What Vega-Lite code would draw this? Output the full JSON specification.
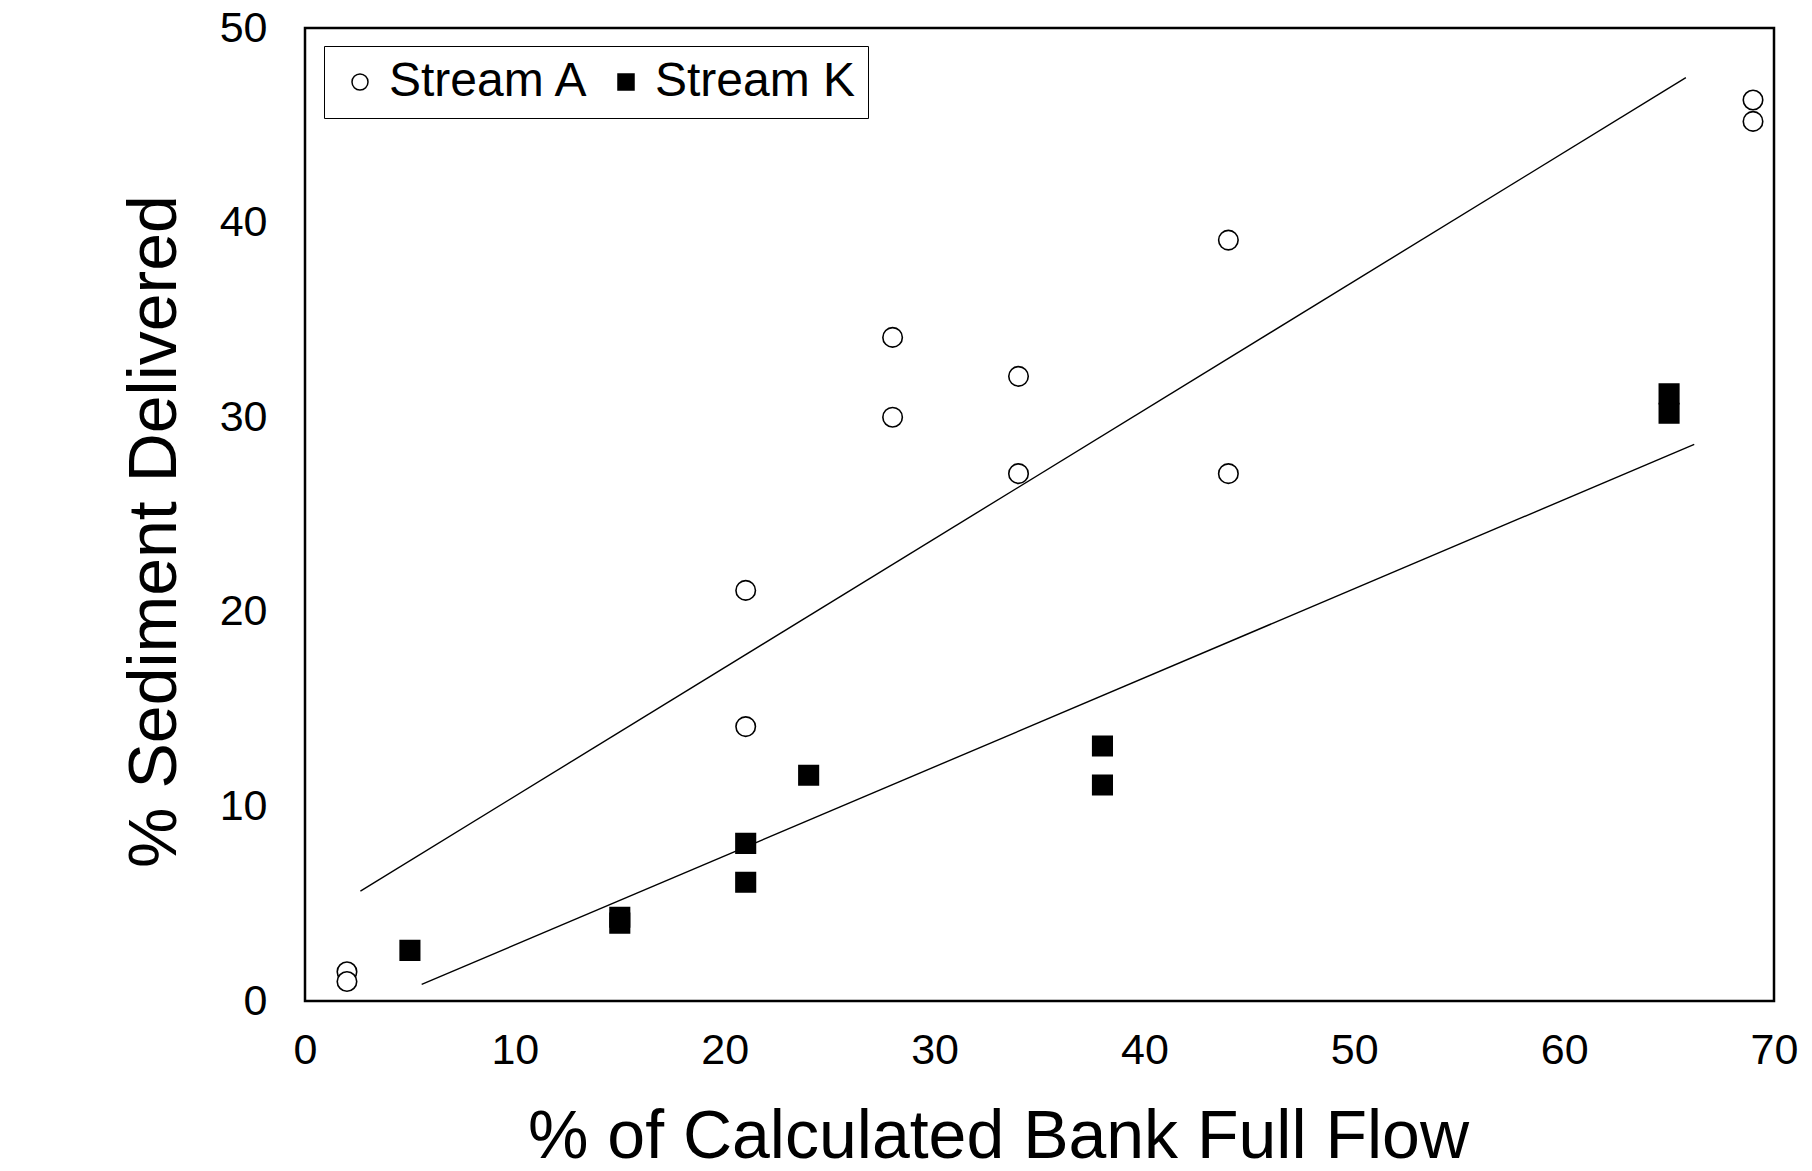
{
  "$schema": "https://vega.github.io/schema/vega-lite/v6.json",
  "width": 1469,
  "height": 973,
  "autosize": {"type": "none"},
  "padding": {"left": 305, "top": 28, "right": 38, "bottom": 170},
  "background": "white",
  "config": {
    "font": "Liberation Sans",
    "view": {"stroke": "black", "strokeWidth": 2.5},
    "axis": {
      "grid": false,
      "ticks": false,
      "domain": false,
      "labelColor": "black",
      "titleColor": "black",
      "labelFont": "Liberation Sans",
      "titleFont": "Liberation Sans",
      "titleFontWeight": "normal",
      "labelFontSize": 43,
      "titleFontSize": 68,
      "labelFlush": false,
      "labelOverlap": false
    },
    "legend": {
      "orient": "none",
      "legendX": 19,
      "legendY": 18,
      "direction": "horizontal",
      "strokeColor": "black",
      "padding": 12,
      "symbolOffset": 0,
      "symbolSize": 256,
      "labelFont": "Liberation Sans",
      "labelFontSize": 48,
      "labelColor": "black",
      "labelLimit": 400,
      "labelOffset": 5,
      "columnPadding": 12
    }
  },
  "datasets": {
    "points": [
      {"stream": "Stream A", "flow": 2, "sediment": 1.5},
      {"stream": "Stream A", "flow": 2, "sediment": 1.0},
      {"stream": "Stream A", "flow": 21, "sediment": 21.1},
      {"stream": "Stream A", "flow": 21, "sediment": 14.1},
      {"stream": "Stream A", "flow": 28, "sediment": 34.1},
      {"stream": "Stream A", "flow": 28, "sediment": 30.0},
      {"stream": "Stream A", "flow": 34, "sediment": 32.1},
      {"stream": "Stream A", "flow": 34, "sediment": 27.1},
      {"stream": "Stream A", "flow": 44, "sediment": 39.1},
      {"stream": "Stream A", "flow": 44, "sediment": 27.1},
      {"stream": "Stream A", "flow": 69, "sediment": 46.3},
      {"stream": "Stream A", "flow": 69, "sediment": 45.2},
      {"stream": "Stream K", "flow": 5, "sediment": 2.6},
      {"stream": "Stream K", "flow": 15, "sediment": 4.0},
      {"stream": "Stream K", "flow": 15, "sediment": 4.3},
      {"stream": "Stream K", "flow": 21, "sediment": 8.1},
      {"stream": "Stream K", "flow": 21, "sediment": 6.1},
      {"stream": "Stream K", "flow": 24, "sediment": 11.6},
      {"stream": "Stream K", "flow": 38, "sediment": 13.1},
      {"stream": "Stream K", "flow": 38, "sediment": 11.1},
      {"stream": "Stream K", "flow": 65, "sediment": 30.2},
      {"stream": "Stream K", "flow": 65, "sediment": 31.2}
    ],
    "fits": [
      {"stream": "Stream A", "flow": 2.64, "sediment": 5.65},
      {"stream": "Stream A", "flow": 65.8, "sediment": 47.45},
      {"stream": "Stream K", "flow": 5.56, "sediment": 0.85},
      {"stream": "Stream K", "flow": 66.2, "sediment": 28.6}
    ]
  },
  "encoding": {
    "x": {
      "field": "flow",
      "type": "quantitative",
      "scale": {"domain": [0, 70], "nice": false},
      "axis": {
        "values": [0, 10, 20, 30, 40, 50, 60, 70],
        "labelPadding": 28,
        "title": "% of Calculated Bank Full Flow",
        "titleX": 693,
        "titleY": 156,
        "titleAlign": "center",
        "titleBaseline": "alphabetic"
      }
    },
    "y": {
      "field": "sediment",
      "type": "quantitative",
      "scale": {"domain": [0, 50], "nice": false},
      "axis": {
        "values": [0, 10, 20, 30, 40, 50],
        "labelPadding": 38,
        "title": "% Sediment Delivered",
        "titleAngle": -90,
        "titleX": -130,
        "titleY": 503,
        "titleAlign": "center",
        "titleBaseline": "alphabetic"
      }
    }
  },
  "layer": [
    {
      "data": {"name": "fits"},
      "mark": {"type": "line", "color": "black", "strokeWidth": 1.4},
      "encoding": {"detail": {"field": "stream"}}
    },
    {
      "data": {"name": "points"},
      "mark": {"type": "point", "filled": true, "stroke": "black", "strokeWidth": 1.6, "size": 380, "opacity": 1},
      "encoding": {
        "shape": {
          "field": "stream",
          "type": "nominal",
          "scale": {"domain": ["Stream A", "Stream K"], "range": ["circle", "square"]},
          "legend": {
            "title": null,
            "encode": {
              "legend": {"update": {"strokeWidth": {"value": 2}}},
              "symbols": {"update": {"stroke": {"value": "black"}, "strokeWidth": {"value": 1.4}, "opacity": {"value": 1}}}
            }
          }
        },
        "fill": {
          "field": "stream",
          "type": "nominal",
          "scale": {"domain": ["Stream A", "Stream K"], "range": ["white", "black"]},
          "legend": {
            "title": null,
            "encode": {
              "legend": {"update": {"strokeWidth": {"value": 2}}},
              "symbols": {"update": {"stroke": {"value": "black"}, "strokeWidth": {"value": 1.4}, "opacity": {"value": 1}}}
            }
          }
        }
      }
    }
  ]
}
